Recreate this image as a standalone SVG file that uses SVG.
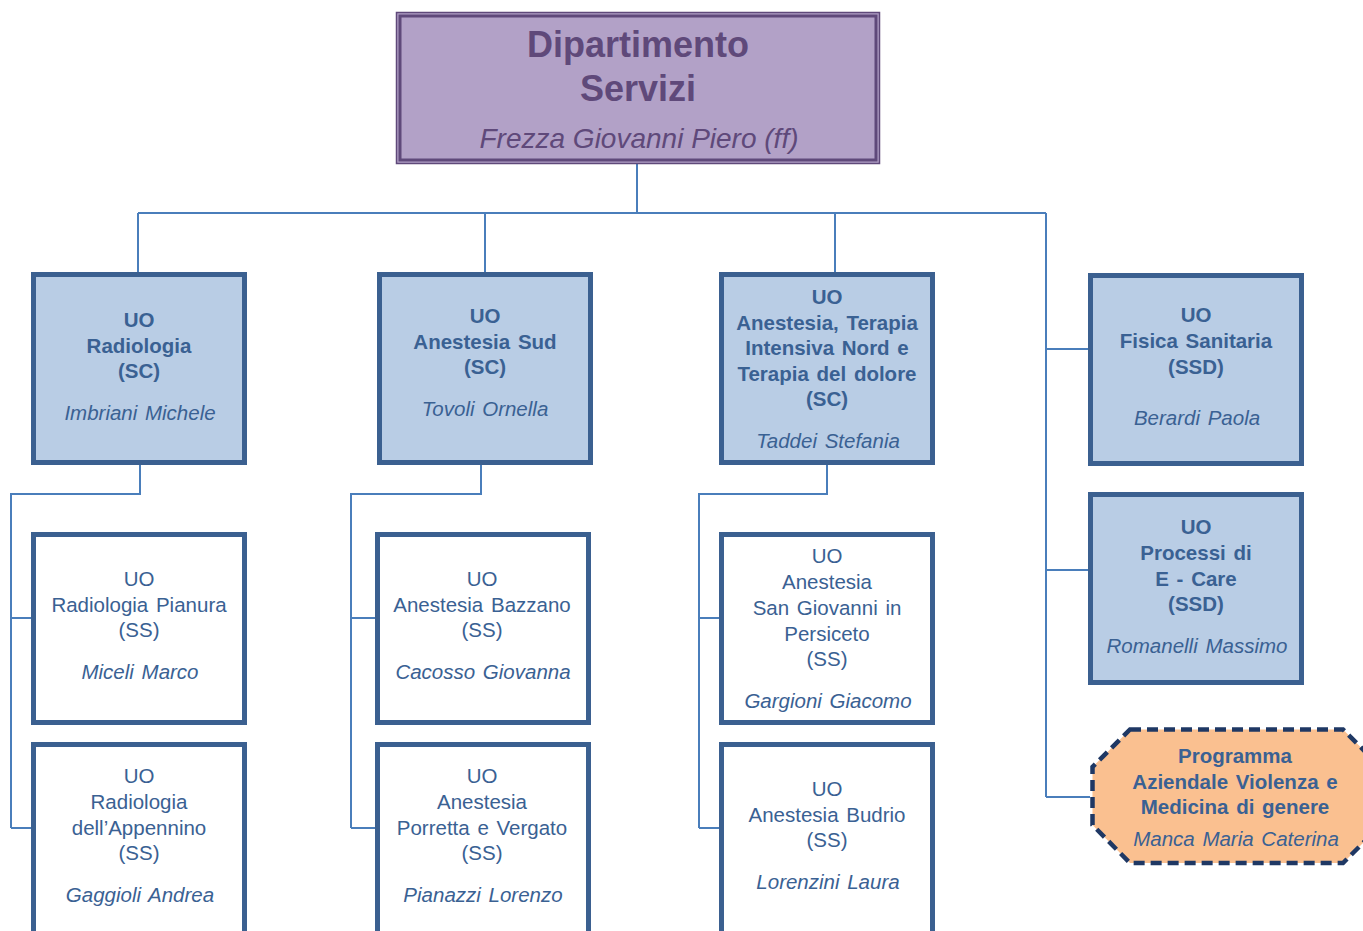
<svg xmlns="http://www.w3.org/2000/svg" width="1363" height="931" viewBox="0 0 1363 931">
<style>
text{font-family:"Liberation Sans",Arial,sans-serif;text-anchor:middle;font-size:20.5px;word-spacing:2px;fill:#3a6193}
.b{font-weight:bold}
.i{font-style:italic}
.sc{fill:#b9cde5;stroke:#3b6090;stroke-width:5}
.ss{fill:#ffffff;stroke:#3b6090;stroke-width:5}
.c{fill:none;stroke:#4a7ebb;stroke-width:2}
.top{fill:#5f497a;word-spacing:0}
.t1{font-size:36px}
.t2{font-size:28px}
</style>
<rect width="1363" height="931" fill="#ffffff"/>
<g id="connectors">
<path class="c" d="M637,164V213M138,213H1046M138,213V272M485,213V272M835,213V272M1046,213V797M1046,349H1088M1046,570H1088M1046,797H1090"/>
<path class="c" d="M140,464V494H11V828M11,618H32M11,828H32"/>
<path class="c" d="M481,464V494H351V828M351,618H376M351,828H376"/>
<path class="c" d="M827,464V494H699V828M699,618H720M699,828H720"/>
</g>
<g id="dipartimento">
<rect x="396.5" y="12.5" width="483" height="151" fill="#b2a1c7" stroke="#5f497a" stroke-width="1.5"/>
<rect x="400" y="16" width="476" height="144" fill="none" stroke="#5f497a" stroke-width="3"/>
<text class="b top t1" x="638" y="57">Dipartimento</text>
<text class="b top t1" x="638" y="101">Servizi</text>
<text class="i top t2" x="639" y="148">Frezza Giovanni Piero (ff)</text>
</g>
<g id="radiologia">
<rect class="sc" x="33.5" y="274.5" width="211" height="188"/>
<text class="b" x="139" y="327">UO</text>
<text class="b" x="139" y="353">Radiologia</text>
<text class="b" x="139" y="378">(SC)</text>
<text class="i" x="140" y="420">Imbriani Michele</text>
</g>
<g id="anestesia-sud">
<rect class="sc" x="379.5" y="274.5" width="211" height="188"/>
<text class="b" x="485" y="323">UO</text>
<text class="b" x="485" y="349">Anestesia Sud</text>
<text class="b" x="485" y="374">(SC)</text>
<text class="i" x="485" y="416">Tovoli Ornella</text>
</g>
<g id="anestesia-nord">
<rect class="sc" x="721.5" y="274.5" width="211" height="188"/>
<text class="b" x="827" y="304">UO</text>
<text class="b" x="827" y="330">Anestesia, Terapia</text>
<text class="b" x="827" y="355">Intensiva Nord e</text>
<text class="b" x="827" y="381">Terapia del dolore</text>
<text class="b" x="827" y="406">(SC)</text>
<text class="i" x="828" y="448">Taddei Stefania</text>
</g>
<g id="fisica">
<rect class="sc" x="1090.5" y="275.5" width="211" height="188"/>
<text class="b" x="1196" y="322">UO</text>
<text class="b" x="1196" y="348">Fisica Sanitaria</text>
<text class="b" x="1196" y="374">(SSD)</text>
<text class="i" x="1197" y="425">Berardi Paola</text>
</g>
<g id="processi">
<rect class="sc" x="1090.5" y="494.5" width="211" height="188"/>
<text class="b" x="1196" y="534">UO</text>
<text class="b" x="1196" y="560">Processi di</text>
<text class="b" x="1196" y="586">E - Care</text>
<text class="b" x="1196" y="611">(SSD)</text>
<text class="i" x="1197" y="653">Romanelli Massimo</text>
</g>
<g id="programma">
<path d="M1130,729.5H1343L1383,769.5V823L1343,863H1130L1092.5,825V767Z" fill="#fac090" stroke="#1f3864" stroke-width="4.5" stroke-dasharray="11,6"/>
<text class="b" x="1235" y="763">Programma</text>
<text class="b" x="1235" y="789">Aziendale Violenza e</text>
<text class="b" x="1235" y="814">Medicina di genere</text>
<text class="i" x="1236" y="846">Manca Maria Caterina</text>
</g>
<g id="radiologia-pianura">
<rect class="ss" x="33.5" y="534.5" width="211" height="188"/>
<text x="139" y="586">UO</text>
<text x="139" y="612">Radiologia Pianura</text>
<text x="139" y="637">(SS)</text>
<text class="i" x="140" y="679">Miceli Marco</text>
</g>
<g id="radiologia-appennino">
<rect class="ss" x="33.5" y="744.5" width="211" height="200"/>
<text x="139" y="783">UO</text>
<text x="139" y="809">Radiologia</text>
<text x="139" y="835">dell’Appennino</text>
<text x="139" y="860">(SS)</text>
<text class="i" x="140" y="902">Gaggioli Andrea</text>
</g>
<g id="anestesia-bazzano">
<rect class="ss" x="377.5" y="534.5" width="211" height="188"/>
<text x="482" y="586">UO</text>
<text x="482" y="612">Anestesia Bazzano</text>
<text x="482" y="637">(SS)</text>
<text class="i" x="483" y="679">Cacosso Giovanna</text>
</g>
<g id="anestesia-porretta">
<rect class="ss" x="377.5" y="744.5" width="211" height="200"/>
<text x="482" y="783">UO</text>
<text x="482" y="809">Anestesia</text>
<text x="482" y="835">Porretta e Vergato</text>
<text x="482" y="860">(SS)</text>
<text class="i" x="483" y="902">Pianazzi Lorenzo</text>
</g>
<g id="anestesia-sgp">
<rect class="ss" x="721.5" y="534.5" width="211" height="188"/>
<text x="827" y="563">UO</text>
<text x="827" y="589">Anestesia</text>
<text x="827" y="615">San Giovanni in</text>
<text x="827" y="641">Persiceto</text>
<text x="827" y="666">(SS)</text>
<text class="i" x="828" y="708">Gargioni Giacomo</text>
</g>
<g id="anestesia-budrio">
<rect class="ss" x="721.5" y="744.5" width="211" height="200"/>
<text x="827" y="796">UO</text>
<text x="827" y="822">Anestesia Budrio</text>
<text x="827" y="847">(SS)</text>
<text class="i" x="828" y="889">Lorenzini Laura</text>
</g>
</svg>
